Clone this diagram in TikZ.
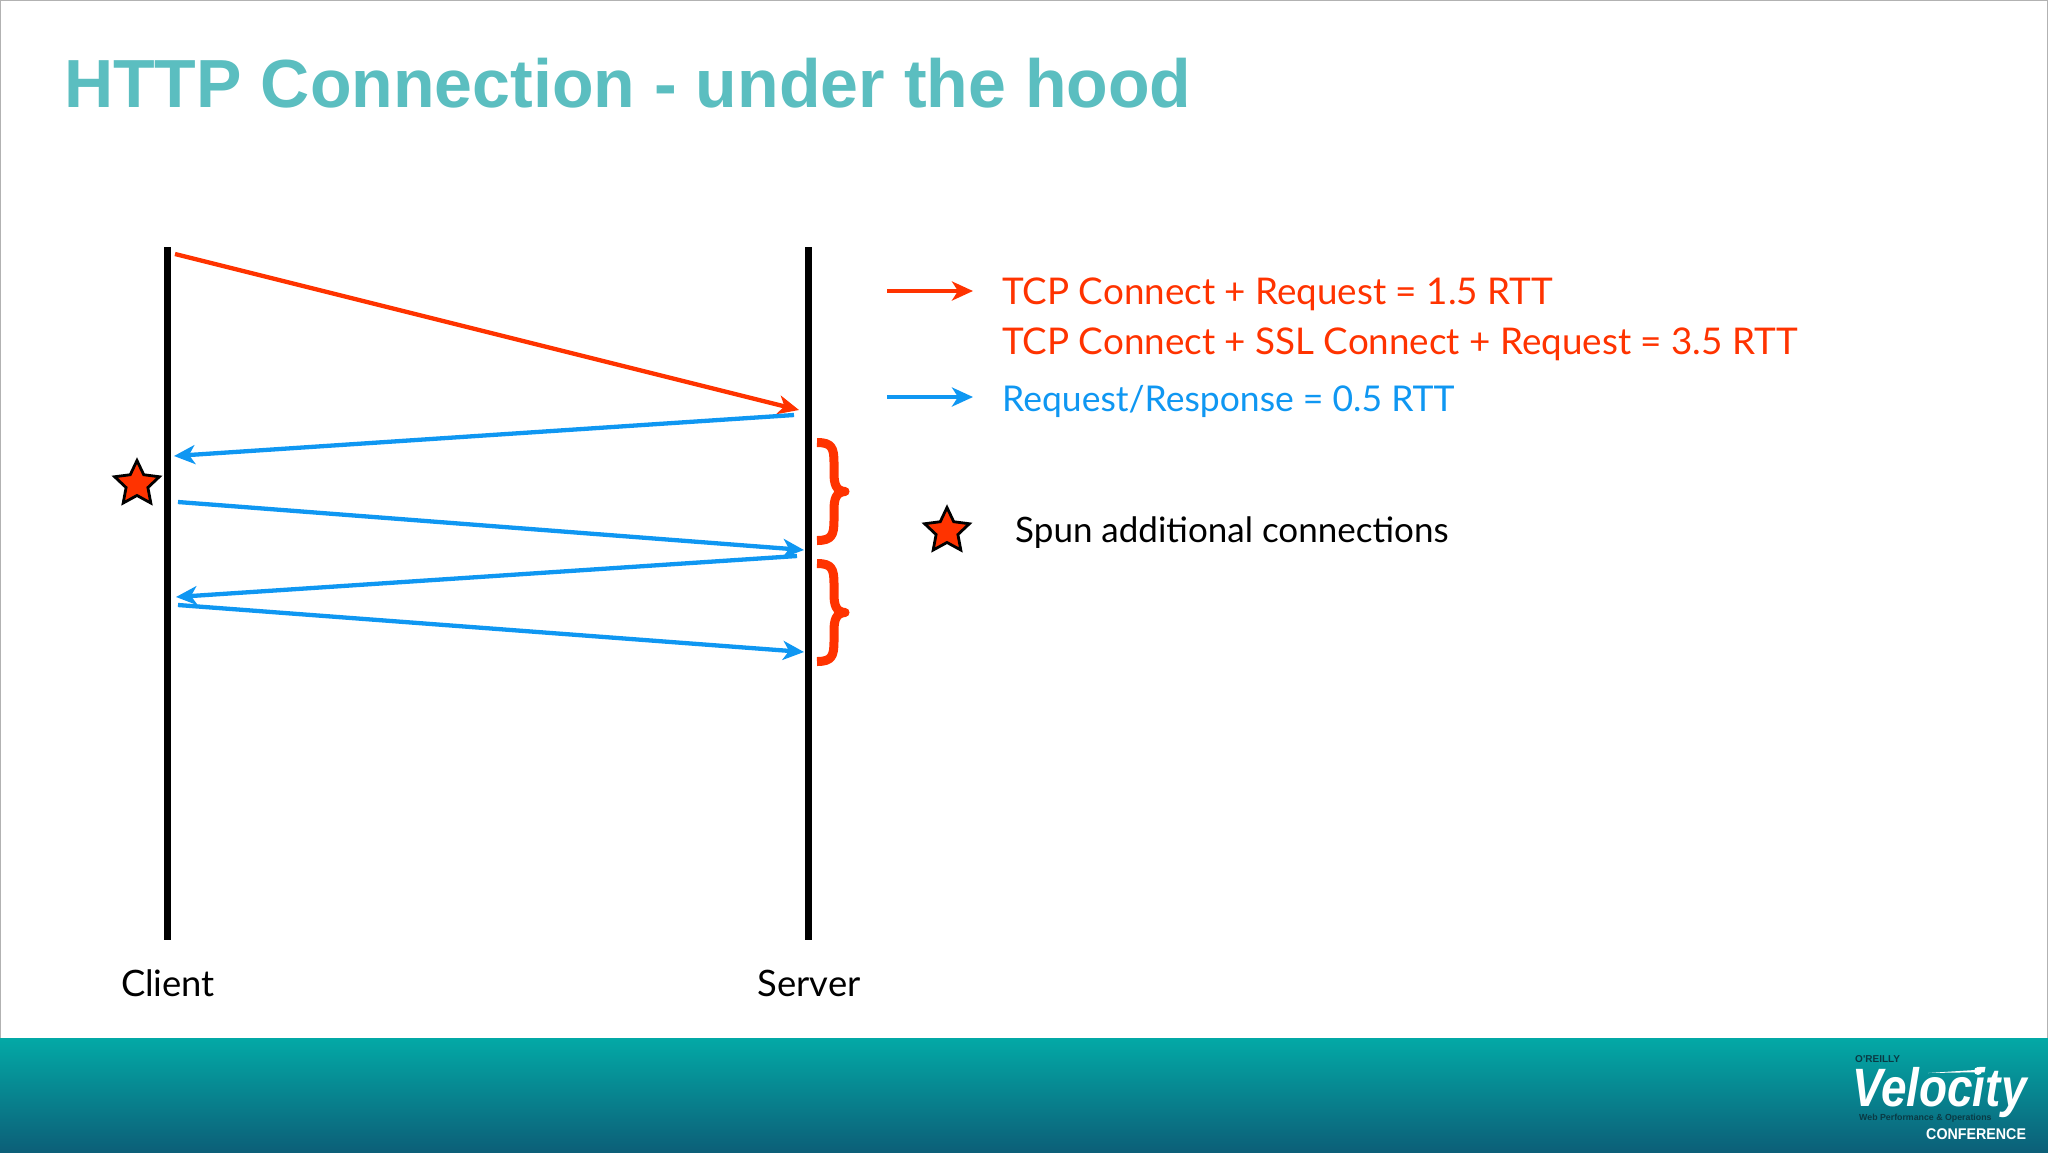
\documentclass[tikz,border=0pt]{standalone}
\usepackage{fontspec}
\usepackage{graphicx}
\setmainfont{Lato}
\newfontfamily\titlefont{Liberation Sans}[Scale=1.0]
\usetikzlibrary{arrows.meta,shapes.geometric,calc}
\definecolor{teal}{HTML}{5BBEC0}
\definecolor{redline}{HTML}{FF3300}
\definecolor{blueline}{HTML}{0F97F2}
\definecolor{bandtop}{HTML}{03A9A6}
\definecolor{bandbot}{HTML}{0C5F78}
\definecolor{logodark}{HTML}{0A3A44}
\tikzset{
  lifeline/.style={line width=7pt,black},
  redmsg/.style={line width=4.3pt,redline,-{Stealth[length=21pt,width=19pt,inset=6pt]}},
  bluemsg/.style={line width=4.3pt,blueline,-{Stealth[length=21pt,width=19pt,inset=6pt]}},
  starmark/.style={star,star points=5,star point ratio=2.05,minimum size=47pt,inner sep=0pt,draw=black,line width=2.8pt,fill=redline},
  bracemark/.style={line width=9pt,redline,line join=round},
  label/.style={anchor=west,inner sep=0pt},
  caption/.style={inner sep=0pt,font=\fontsize{36.4}{36.4}\selectfont,text=black},
}
\begin{document}
\begin{tikzpicture}[x=1pt,y=-1pt]
\useasboundingbox (0,0) rectangle (2048,1152);
\fill[white] (0,0) rectangle (2048,1152);
\draw[gray!60,line width=1pt] (0.5,1038) -- (0.5,0.5) -- (2047.5,0.5) -- (2047.5,1038);
\shade[top color=bandtop,bottom color=bandbot] (0,1038) rectangle (2048,1152);
\node[anchor=west,inner sep=0pt,text=teal,font=\titlefont\bfseries\fontsize{68.1}{68.1}\selectfont] (title) at (64,83) {HTTP Connection - under the hood};
% lifelines
\coordinate (ct) at (167.5,247); \coordinate (cb) at (167.5,940);
\coordinate (st) at (808.5,247); \coordinate (sb) at (808.5,940);
\draw[lifeline] (ct) -- (cb);
\draw[lifeline] (st) -- (sb);
\node[caption] (client) at (168,983) {Client};
\node[caption] (server) at (809,983) {Server};
% messages
\coordinate (m1a) at (175,254); \coordinate (m1b) at (799,410);
\coordinate (m2a) at (794,415); \coordinate (m2b) at (174,456);
\coordinate (m3a) at (178,502); \coordinate (m3b) at (804,550);
\coordinate (m4a) at (797,556); \coordinate (m4b) at (176,597);
\coordinate (m5a) at (178,605); \coordinate (m5b) at (804,652);
\draw[redmsg] (m1a) -- (m1b);
\draw[bluemsg] (m2a) -- (m2b);
\draw[bluemsg] (m3a) -- (m3b);
\draw[bluemsg] (m4a) -- (m4b);
\draw[bluemsg] (m5a) -- (m5b);
% braces
\foreach \yy in {438,559}{
  \draw[bracemark] (817,\yy+4.5)
    .. controls (832,\yy+4.5) and (834,\yy+10) .. (834,\yy+25)
    -- (834,\yy+35)
    .. controls (834,\yy+46) and (836,\yy+53) .. (845,\yy+53.5)
    .. controls (836,\yy+54) and (834,\yy+61) .. (834,\yy+72)
    -- (834,\yy+82)
    .. controls (834,\yy+97) and (832,\yy+102.5) .. (817,\yy+102.5);
}
% stars
\node[starmark] (star1) at (137,484) {};
\node[starmark] (star2) at (947,531) {};
% legend
\coordinate (lr1) at (887,291); \coordinate (lr2) at (973,291);
\coordinate (lb1) at (887,397); \coordinate (lb2) at (973,397);
\draw[redmsg] (lr1) -- (lr2);
\draw[bluemsg] (lb1) -- (lb2);
\node[label,text=redline,font=\fontsize{36.8}{36.8}\selectfont] (t1) at (1002,294.5) {TCP Connect + Request = 1.5 RTT};
\node[label,text=redline,font=\fontsize{36.8}{36.8}\selectfont] (t2) at (1002,344) {TCP Connect + SSL Connect + Request = 3.5 RTT};
\node[label,text=blueline,font=\fontsize{35.5}{35.5}\selectfont] (t3) at (1002,401) {Request/Response = 0.5 RTT};
\node[label,text=black,font=\fontsize{35}{35}\selectfont] (t4) at (1015,533) {Spun additional connections};
% logo
\node[anchor=west,inner sep=0pt,text=logodark,font=\titlefont\bfseries\fontsize{10}{10}\selectfont] (oreilly) at (1855,1059) {O'REILLY};
\node[anchor=west,inner sep=0pt,text=white,font=\titlefont\bfseries\itshape\fontsize{54}{54}\selectfont] (velocity) at (1852,1093) {\scalebox{.85}[1]{Velocity}};
\coordinate (sw1) at (1928,1073); \coordinate (sw2) at (1978,1071);
\fill[white] (sw1) -- ($(sw2)+(0,-1.2)$) -- ($(sw2)+(0,1.2)$) -- cycle;
\fill[white] (sw2) circle (4pt);
\node[anchor=west,inner sep=0pt,text=logodark,font=\titlefont\bfseries\fontsize{8.8}{8.8}\selectfont] (web) at (1859,1118) {Web Performance \& Operations};
\node[anchor=west,inner sep=0pt,text=white,font=\titlefont\bfseries\fontsize{15.5}{15.5}\selectfont] (conf) at (1926,1134) {\scalebox{.92}[1]{CONFERENCE}};
\end{tikzpicture}
\end{document}
